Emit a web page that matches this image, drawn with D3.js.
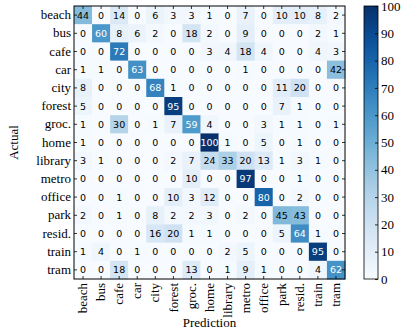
<!DOCTYPE html>
<html><head><meta charset="utf-8">
<script src="https://cdn.jsdelivr.net/npm/d3@7"></script>
<style>body{margin:0;background:#fff}svg{display:block}
.serif{font-family:"Liberation Serif","Times New Roman",serif}
.sans{font-family:"DejaVu Sans",sans-serif}</style>
</head><body>
<svg id="c" width="407" height="333"></svg>
<script>
const classes = ["beach","bus","cafe","car","city","forest","groc.","home","library","metro","office","park","resid.","train","tram"];
const matrix = [
 [44,0,14,0,6,3,3,1,0,7,0,10,10,8,2],
 [0,60,8,6,2,0,18,2,0,9,0,0,0,2,1],
 [0,0,72,0,0,0,0,3,4,18,4,0,0,4,3],
 [1,1,0,63,0,0,0,0,0,1,0,0,0,0,42],
 [8,0,0,0,68,1,0,0,0,0,0,11,20,0,0],
 [5,0,0,0,0,95,0,0,0,0,0,7,1,0,0],
 [1,0,30,0,1,7,59,4,0,0,3,1,1,0,1],
 [1,0,0,0,0,0,0,100,1,0,5,0,1,0,0],
 [3,1,0,0,0,2,7,24,33,20,13,1,3,1,0],
 [0,0,0,0,0,0,10,0,0,97,0,0,1,0,0],
 [0,0,1,0,0,10,3,12,0,0,80,0,2,0,0],
 [2,0,1,0,8,2,2,3,0,2,0,45,43,0,0],
 [0,0,0,0,16,20,1,1,0,0,0,5,64,1,0],
 [1,4,0,1,0,0,0,0,2,5,0,0,0,95,0],
 [0,0,18,0,0,0,13,0,1,9,1,0,0,4,62]
];
const colorTicks = [0,10,20,30,40,50,60,70,80,90,100];
const xLabel = "Prediction", yLabel = "Actual";

const svg = d3.select("#c");
const L = 74, R = 345, T = 6, B = 279;
const x = d3.scaleBand().domain(classes).range([L, R]);
const y = d3.scaleBand().domain(classes).range([T, B]);
const color = d3.scaleSequential(d3.interpolateBlues).domain([0, 100]);

const cells = [];
matrix.forEach((row, i) => row.forEach((v, j) => cells.push({r: classes[i], c: classes[j], v})));

svg.append("g").selectAll("rect").data(cells).join("rect")
  .attr("x", d => x(d.c)).attr("y", d => y(d.r))
  .attr("width", x.bandwidth() + 0.5).attr("height", y.bandwidth() + 0.5)
  .attr("fill", d => color(d.v));

svg.append("g").selectAll("text").data(cells).join("text")
  .attr("class", "sans")
  .attr("x", d => x(d.c) + x.bandwidth() / 2)
  .attr("y", d => y(d.r) + y.bandwidth() / 2)
  .attr("dy", "0.36em")
  .attr("text-anchor", "middle")
  .style("font-size", "9.5px")
  .attr("fill", d => d.v > 50 ? "#fff" : "#000")
  .text(d => d.v);

const styleAxis = g => {
  g.attr("font-family", null).attr("font-size", null);
  g.select(".domain").remove();
  g.selectAll(".tick line").attr("stroke", "#000").attr("stroke-width", 0.8);
  g.selectAll("text").attr("class", "serif").style("font-size", "13px").attr("fill", "#000");
};
svg.append("g").attr("transform", `translate(${L},0)`)
  .call(d3.axisLeft(y).tickSizeInner(-3).tickSizeOuter(0).tickPadding(3))
  .call(styleAxis);
svg.append("g").attr("transform", `translate(${R},0)`)
  .call(d3.axisRight(y).tickSizeInner(-3).tickSizeOuter(0).tickFormat(""))
  .call(styleAxis);
svg.append("g").attr("transform", `translate(0,${T})`)
  .call(d3.axisTop(x).tickSizeInner(-3).tickSizeOuter(0).tickFormat(""))
  .call(styleAxis);
const xb = svg.append("g").attr("transform", `translate(0,${B})`)
  .call(d3.axisBottom(x).tickSizeInner(-3).tickSizeOuter(0).tickPadding(3))
  .call(styleAxis);
xb.selectAll(".tick text")
  .attr("transform", "rotate(-90)")
  .attr("text-anchor", "end")
  .attr("x", -4).attr("y", 0).attr("dy", "0.32em");

svg.append("rect").attr("x", L).attr("y", T).attr("width", R - L).attr("height", B - T)
  .attr("fill", "none").attr("stroke", "#000").attr("stroke-width", 1);

svg.append("text").attr("class", "serif").attr("x", (L + R) / 2).attr("y", 327).attr("text-anchor", "middle")
  .style("font-size", "13px").text(xLabel);
svg.append("text").attr("class", "serif").attr("transform", `translate(18,${(T + B) / 2}) rotate(-90)`)
  .attr("text-anchor", "middle").style("font-size", "13px").text(yLabel);

// colorbar
const cbL = 364, cbR = 378;
const cy = d3.scaleLinear().domain([0, 100]).range([B, T]);
const defs = svg.append("defs");
const grad = defs.append("linearGradient").attr("id", "cbg").attr("x1", 0).attr("y1", 1).attr("x2", 0).attr("y2", 0);
d3.range(0, 1.0001, 0.05).forEach(t => grad.append("stop").attr("offset", t).attr("stop-color", color(t * 100)));
svg.append("rect").attr("x", cbL).attr("y", T).attr("width", cbR - cbL).attr("height", B - T)
  .attr("fill", "url(#cbg)").attr("stroke", "#000").attr("stroke-width", 0.8);
svg.append("g").attr("transform", `translate(${cbR},0)`)
  .call(d3.axisRight(cy).tickValues(colorTicks).tickSizeInner(-3).tickSizeOuter(0).tickPadding(3))
  .call(styleAxis);
</script>
</body></html>
